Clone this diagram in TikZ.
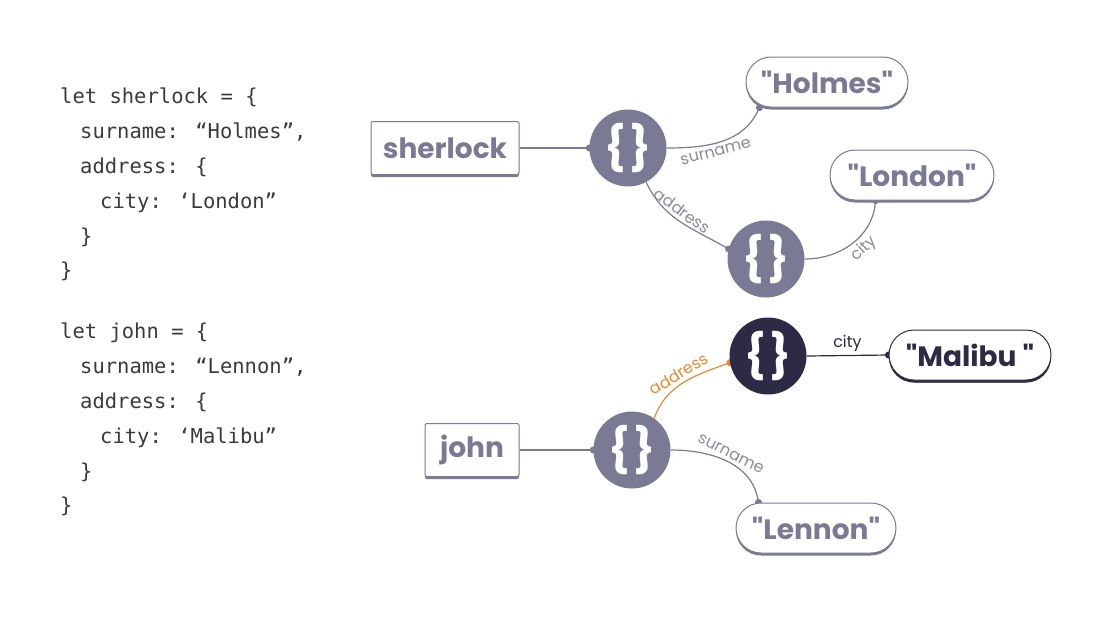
\documentclass[tikz,border=0pt]{standalone}
\usepackage{fontspec}
\setmainfont{Poppins}[Ligatures=TeXOff]
\newfontfamily\codefont{DejaVu Sans Mono}
\usetikzlibrary{arrows.meta,backgrounds}

\definecolor{objgrey}{HTML}{7A7A94}
\definecolor{keygrey}{HTML}{8A8AA0}
\definecolor{darkobj}{HTML}{2D2A45}
\definecolor{linkorange}{HTML}{EC8632}
\definecolor{codegrey}{HTML}{3A3A3A}

\newcommand{\objbraces}{\{\hspace{3pt}\}}

\begin{document}
\begin{tikzpicture}[x=1pt,y=1pt]
    \tikzstyle{object}=[circle, fill=objgrey, minimum size=77pt, inner sep=0pt, text=white, font=\fontsize{44}{44}\selectfont\bfseries]
    \tikzstyle{namebox}=[draw=objgrey, fill=white, line width=1pt, rounded corners=2pt, minimum height=53pt, inner sep=0pt, text=objgrey, font=\fontsize{28}{28}\selectfont\bfseries, preaction={fill=objgrey, transform canvas={yshift=-2.5pt}}]
    \tikzstyle{value}=[namebox, rounded corners=25pt, minimum height=50pt]
    \tikzstyle{link}=[line width=1.2pt, draw=objgrey, -{Circle[length=7pt]}, shorten >=-3.5pt]
    \tikzstyle{key}=[font=\fontsize{16}{16}\selectfont, text=keygrey, sloped, inner sep=3.5pt]
    \tikzstyle{code}=[anchor=north west, align=left, inner sep=0pt, text=codegrey, font=\codefont\fontsize{20.5}{34.8}\selectfont]

    \useasboundingbox (0,0) rectangle (1100,-619);

    % source code
    \node[code] (codesherlock) at (60,-88) {let sherlock = \{\\
      \hspace*{20pt}surname: “Holmes”,\\
      \hspace*{20pt}address: \{\\
      \hspace*{40pt}city: ‘London”\\
      \hspace*{20pt}\}\\
      \}};
    \node[code] (codejohn) at (60,-323) {let john = \{\\
      \hspace*{20pt}surname: “Lennon”,\\
      \hspace*{20pt}address: \{\\
      \hspace*{40pt}city: ‘Malibu”\\
      \hspace*{20pt}\}\\
      \}};

    % sherlock nodes
    \node[namebox, minimum width=148pt] (sherlock) at (445,-148) {sherlock};
    \node[object] (sherlockobj) at (628,-148) {\objbraces};
    \node[value, minimum width=162pt] (holmes) at (827,-82) {"Holmes"};
    \node[object] (sherlockaddr) at (766,-259) {\objbraces};
    \node[value, minimum width=164pt] (london) at (912,-175) {"London"};

    % john nodes
    \node[namebox, minimum width=94pt] (john) at (472,-450) {john};
    \node[object] (johnobj) at (632,-450) {\objbraces};
    \node[object, fill=darkobj] (johnaddr) at (768,-356) {\objbraces};
    \node[value, minimum width=162pt, draw=darkobj, text=darkobj, preaction={fill=darkobj, transform canvas={yshift=-2.5pt}}] (malibu) at (970,-355) {"Malibu "};
    \node[value, minimum width=160pt] (lennon) at (816,-528) {"Lennon"};

    % links
    \begin{scope}[on background layer]
      \draw[link] (sherlock.east) -- (sherlockobj.west);
      \draw[link] (sherlockobj.east) to[out=0,in=-115] node[key,below,pos=.42] {surname} ([xshift=14pt]holmes.south west);
      \draw[link] (sherlockobj.-62) to[out=-65,in=150] node[key,above,pos=.45] {address} (sherlockaddr.165);
      \draw[link] (sherlockaddr.east) to[out=0,in=-95] node[key,below,pos=.55] {city} ([xshift=46pt]london.south west);

      \draw[link] (john.east) -- (johnobj.west);
      \draw[link, draw=linkorange] (johnobj.55) to[out=70,in=200] node[key,above,pos=.5,text=linkorange] {address} (johnaddr.190);
      \draw[link, draw=darkobj] (johnaddr.east) -- node[key,above,text=darkobj] {city} (malibu.west);
      \draw[link] (johnobj.east) to[out=0,in=100] node[key,above,pos=.5] {surname} ([xshift=23pt]lennon.north west);
    \end{scope}
\end{tikzpicture}
\end{document}
